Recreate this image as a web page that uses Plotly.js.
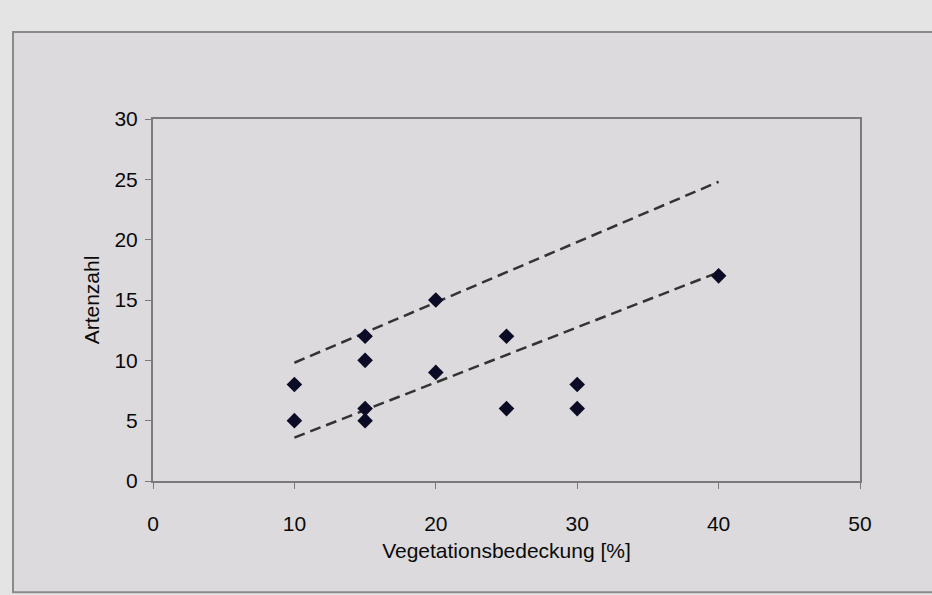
<!DOCTYPE html>
<html>
<head>
<meta charset="utf-8">
<script src="https://cdn.plot.ly/plotly-3.0.1.min.js"></script>
<style>html,body{margin:0;padding:0;background:#e4e4e4;}#chart{width:932px;height:595px;}</style>
</head>
<body>
<div id="chart"></div>
<script>
const coverage = [10, 10, 15, 15, 15, 15, 20, 20, 25, 25, 30, 30, 40];
const species  = [8, 5, 12, 10, 6, 5, 15, 9, 12, 6, 8, 6, 17];
const lineX = [10, 40];
const upperLine = [9.8, 24.8];
const lowerLine = [3.6, 17.3];
const xTicks = [0, 10, 20, 30, 40, 50];
const yTicks = [0, 5, 10, 15, 20, 25, 30];

const traces = [
  {x: lineX, y: upperLine, mode: 'lines', line: {color: '#333333', width: 2.5, dash: '11px,6px'}, hoverinfo: 'skip'},
  {x: lineX, y: lowerLine, mode: 'lines', line: {color: '#333333', width: 2.5, dash: '11px,6px'}, hoverinfo: 'skip'},
  {x: coverage, y: species, mode: 'markers', marker: {symbol: 'diamond', size: 12, color: '#0b0b26'}}
];

const fontFam = 'Liberation Sans, Arial, sans-serif';
const layout = {
  width: 932, height: 595,
  margin: {l: 153, r: 72, t: 119, b: 114},
  paper_bgcolor: '#e4e4e4',
  plot_bgcolor: '#e0e0e0',
  showlegend: false,
  font: {family: fontFam, color: '#0a0a0a', size: 20},
  xaxis: {
    range: [0, 50], tickvals: xTicks, ticktext: xTicks.map(String),
    showgrid: false, zeroline: false,
    showline: true, linecolor: '#7a7a7a', linewidth: 2, mirror: true,
    ticks: 'outside', ticklen: 6, tickcolor: '#7a7a7a', tickwidth: 1,
    ticklabelstandoff: 17,
    tickfont: {size: 21, family: fontFam, color: '#0a0a0a'},
    title: {text: 'Vegetationsbedeckung [%]', font: {size: 21, family: fontFam, color: '#0a0a0a'}, standoff: 9}
  },
  yaxis: {
    range: [0, 30], tickvals: yTicks, ticktext: yTicks.map(String),
    showgrid: false, zeroline: false,
    showline: true, linecolor: '#7a7a7a', linewidth: 2, mirror: true,
    ticks: 'outside', ticklen: 6, tickcolor: '#7a7a7a', tickwidth: 1,
    ticklabelstandoff: 3,
    tickfont: {size: 21, family: fontFam, color: '#0a0a0a'},
    title: {text: 'Artenzahl', font: {size: 21, family: fontFam, color: '#0a0a0a'}, standoff: 9}
  },
  shapes: [
    {type: 'rect', xref: 'paper', yref: 'paper', layer: 'below',
     x0: -0.198, x1: 1.2, y0: -0.307, y1: 1.24,
     fillcolor: '#dcdadd', line: {color: '#8a8a8a', width: 2}}
  ]
};

Plotly.newPlot('chart', traces, layout, {displayModeBar: false, staticPlot: true});
</script>
</body>
</html>
